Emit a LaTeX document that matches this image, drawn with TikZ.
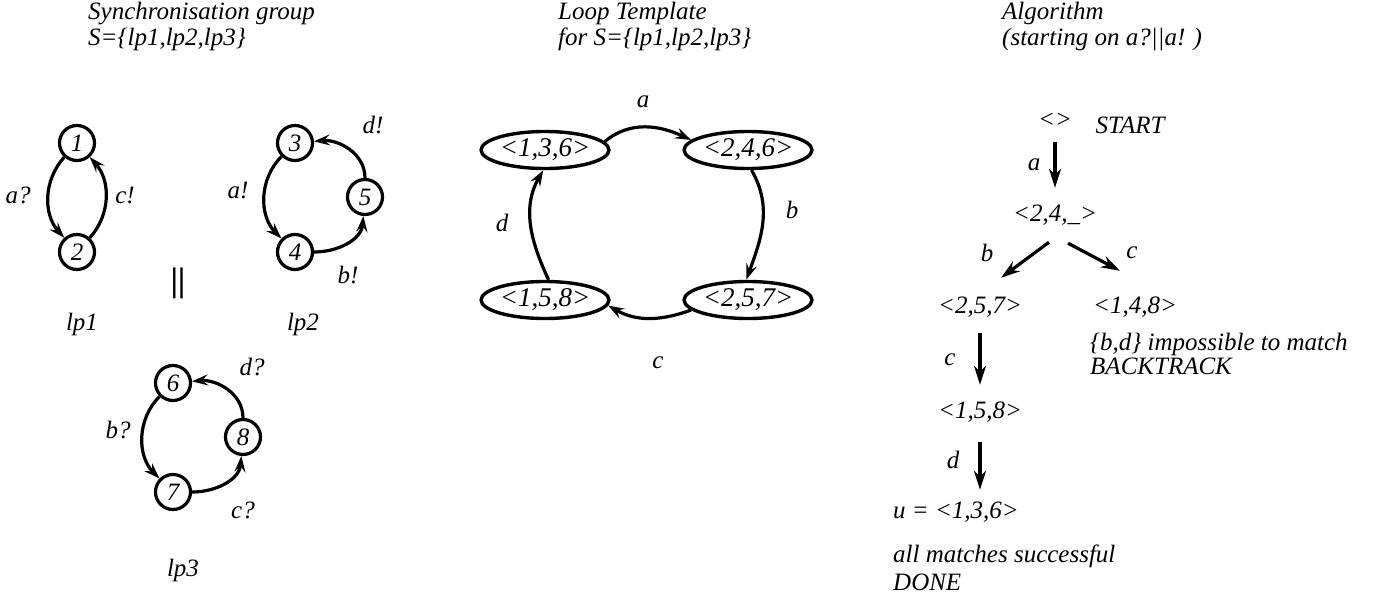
\documentclass[tikz,border=0pt]{standalone}
\usepackage{fontspec}
\setmainfont{Liberation Serif}
\usetikzlibrary{arrows.meta,shapes.geometric}

\tikzset{
  lbl/.style={font=\fontsize{25}{26}\selectfont\itshape, inner sep=1pt},
  big/.style={font=\fontsize{27}{28}\selectfont\itshape},
  head/.style={lbl, anchor=north west, align=left, inner sep=0pt},
  loc/.style={lbl, circle, draw, line width=3.2pt, minimum size=35pt, inner sep=0pt},
  tuple/.style={lbl, big, ellipse, draw, line width=3.4pt, minimum width=102pt, minimum height=37pt, inner sep=0pt},
  tup/.style={lbl, inner sep=0pt, text height=17pt, text depth=5pt},
  trans/.style={line width=3.2pt, -{Stealth[length=16pt,width=11pt,inset=6pt]}},
  walk/.style={line width=3.2pt, -{Stealth[length=19pt,width=12pt,inset=6pt]}}
}

\begin{document}
\begin{tikzpicture}[x=1pt, y=1pt]
 \useasboundingbox (0,0) rectangle (1388,-599);

 % Headings
 \node[head] (hsync) at (88,-2) {Synchronisation group\\S=\{lp1,lp2,lp3\}};
 \node[head] (hloop) at (558,-2) {Loop Template\\for S=\{lp1,lp2,lp3\}};
 \node[head] (halgo) at (1002,-2) {Algorithm\\(starting on a?||a! )};

 % lp1
 \node[loc] (l1) at (77,-143) {1};
 \node[loc] (l2) at (77,-252) {2};
 \draw[trans] (l1) to[bend right=42] (l2);
 \draw[trans] (l2) to[bend right=42] (l1);
 \node[lbl] (ta1) at (18,-195) {a?};
 \node[lbl] (tc1) at (125,-195) {c!};
 \node[lbl] (lp1) at (82,-324) {lp1};

 % parallel bars
 \node[lbl] (par) at (178,-283) {\fontsize{34}{34}\selectfont\upshape\bfseries ||};

 % lp2
 \node[loc] (l3) at (295,-143) {3};
 \node[loc] (l4) at (295,-252) {4};
 \node[loc] (l5) at (365,-197) {5};
 \draw[trans] (l3) to[bend right=45] (l4);
 \draw[trans] (l4) to[out=0,in=-95] (l5);
 \draw[trans] (l5) to[out=90,in=5] (l3);
 \node[lbl] (td2) at (373,-125) {d!};
 \node[lbl] (ta2) at (238,-190) {a!};
 \node[lbl] (tb2) at (348,-275) {b!};
 \node[lbl] (lp2) at (303,-324) {lp2};

 % lp3
 \node[loc] (l6) at (173,-383) {6};
 \node[loc] (l7) at (173,-492) {7};
 \node[loc] (l8) at (243,-437) {8};
 \draw[trans] (l6) to[bend right=45] (l7);
 \draw[trans] (l7) to[out=0,in=-95] (l8);
 \draw[trans] (l8) to[out=90,in=5] (l6);
 \node[lbl] (td3) at (252,-367) {d?};
 \node[lbl] (tb3) at (118,-430) {b?};
 \node[lbl] (tc3) at (243,-510) {c?};
 \node[lbl] (lp3) at (183,-570) {lp3};

 % Loop template
 \node[tuple] (t136) at (545,-150) {<1,3,6>};
 \node[tuple] (t246) at (748,-150) {<2,4,6>};
 \node[tuple] (t158) at (545,-300) {<1,5,8>};
 \node[tuple] (t257) at (748,-300) {<2,5,7>};
 \draw[trans] (t136.8) to[out=40,in=155] (t246.170);
 \draw[trans] (t246.-80) to[out=-60,in=70] (t257.95);
 \draw[trans] (t257.190) to[out=-160,in=-30] (t158.-5);
 \draw[trans] (t158.80) to[out=115,in=-120] (t136.-95);
 \node[lbl] (ta) at (643,-102) {a};
 \node[lbl] (tb) at (792,-210) {b};
 \node[lbl] (tc) at (658,-363) {c};
 \node[lbl] (td) at (502,-223) {d};

 % Algorithm
 \node[tup] (s0) at (1055,-122) {<>};
 \node[lbl] (start) at (1130,-125) {START};
 \node[tup] (s1) at (1055,-215) {<2,4,\_>};
 \node[tup] (s2) at (980,-307) {<2,5,7>};
 \node[tup] (s3) at (1135,-307) {<1,4,8>};
 \node[head] (fail) at (1090,-333) {\{b,d\} impossible to match\\[-2pt]BACKTRACK};
 \node[tup] (s4) at (980,-412) {<1,5,8>};
 \node[tup, anchor=west] (s5) at (893,-512) {u = <1,3,6>};
 \node[head] (done) at (893,-545) {all matches successful\\[2pt]DONE};
 \coordinate (dend) at (s4.south |- s5.north);

 \draw[walk] ([yshift=-9pt]s0.south) -- ([yshift=16pt]s1.north);
 \draw[walk] ([shift={(-6,-16)}]s1.south) -- ([shift={(21,18)}]s2.north);
 \draw[walk] ([shift={(13,-17)}]s1.south) -- ([shift={(-15,25)}]s3.north);
 \draw[walk] ([yshift=-15pt]s2.south) -- ([yshift=16pt]s4.north);
 \draw[walk] ([yshift=-19pt]s4.south) -- ([yshift=11pt]dend);
 \node[lbl] (wa) at (1034,-165) {a};
 \node[lbl] (wb) at (987,-253) {b};
 \node[lbl] (wc) at (1132,-253) {c};
 \node[lbl] (wc2) at (950,-360) {c};
 \node[lbl] (wd) at (953,-460) {d};
\end{tikzpicture}
\end{document}
